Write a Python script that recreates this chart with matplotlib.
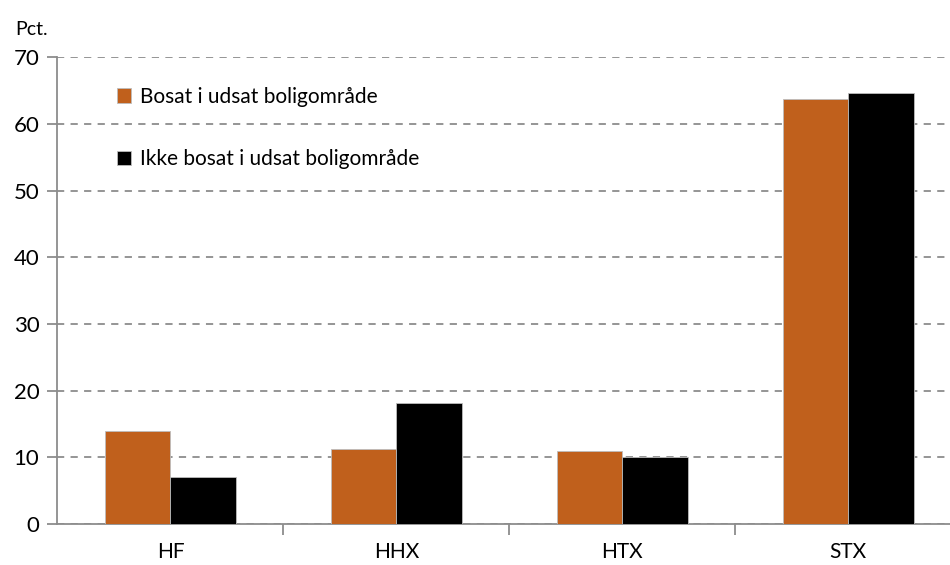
import matplotlib
matplotlib.use("Agg")
import matplotlib.pyplot as plt
import numpy as np

plt.rcParams['font.family'] = ['Lato', 'DejaVu Sans']

categories = ["HF", "HHX", "HTX", "STX"]
series_names = ["Bosat i udsat boligområde", "Ikke bosat i udsat boligområde"]
bosat = [13.9, 11.2, 10.9, 63.8]
ikke_bosat = [7.0, 18.1, 10.0, 64.7]
yticks = [0, 10, 20, 30, 40, 50, 60, 70]

orange = "#C0601C"
black = "#000000"
grey = "#8C8C8C"

fig = plt.figure(figsize=(9.5, 5.65), dpi=100)
ax = fig.add_axes([0.0605, 0.0726, 0.9395, 0.826])

x = np.arange(len(categories))
w = 0.29
ax.bar(x - w / 2, bosat, width=w, color=orange, edgecolor="#BDBDBD", linewidth=0.6,
       label=series_names[0], zorder=3)
ax.bar(x + w / 2, ikke_bosat, width=w, color=black, edgecolor="#BDBDBD", linewidth=0.6,
       label=series_names[1], zorder=3)

ax.set_xlim(-0.5, 3.45)
ax.set_ylim(0, 70)
ax.set_yticks(yticks)
ax.set_yticklabels([str(v) for v in yticks], fontsize=16)
ax.yaxis.grid(True, linestyle=(0, (4, 3.5)), color=grey, linewidth=1.3, zorder=0)
ax.set_axisbelow(True)

ax.set_xticks(x)
ax.set_xticklabels(categories, fontsize=15)
ax.tick_params(axis='x', which='major', length=0, pad=13)
ax.set_xticks(np.arange(0.5, 3.5, 1.0), minor=True)
ax.tick_params(axis='x', which='minor', length=8, color=grey, width=1.3, direction='out')
ax.tick_params(axis='y', length=7, color=grey, width=1.3, direction='out', pad=6)

for s in ['top', 'right']:
    ax.spines[s].set_visible(False)
for s in ['left', 'bottom']:
    ax.spines[s].set_color(grey)
    ax.spines[s].set_linewidth(1.3)

fig.text(0.016, 0.948, "Pct.", fontsize=14, ha='left', va='center')

leg = ax.legend(loc='upper left', bbox_to_anchor=(0.057, 0.955), frameon=False,
                fontsize=15, handlelength=0.7, handleheight=0.7, handletextpad=0.4,
                labelspacing=2.05, borderaxespad=0)

fig.savefig("out.png", dpi=100)
